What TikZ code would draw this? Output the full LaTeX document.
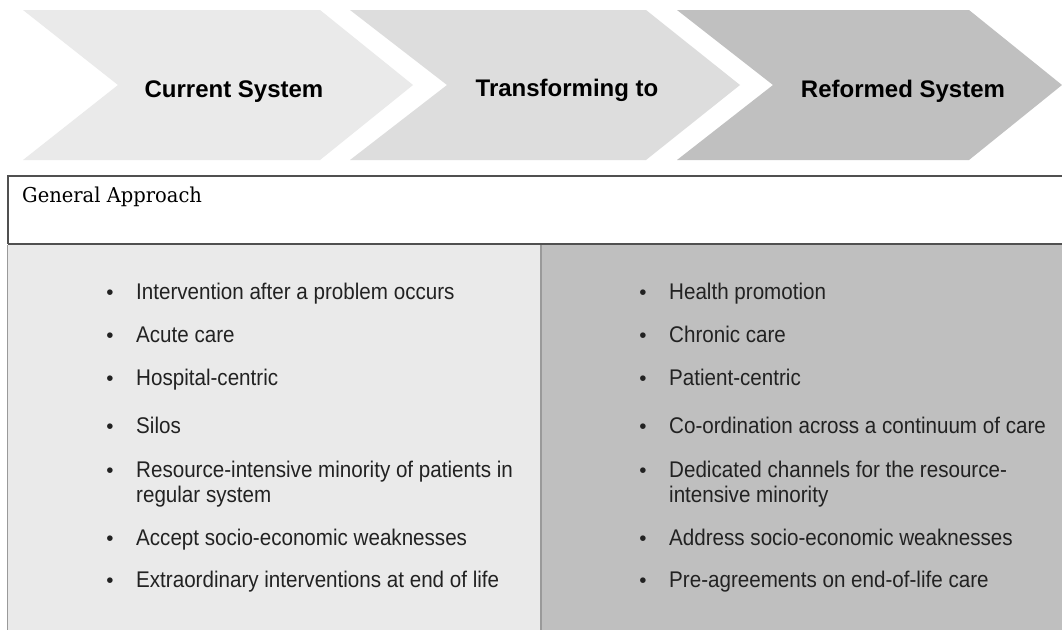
\documentclass[tikz,border=0pt]{standalone}
\usepackage{fontspec}
\setmainfont{Liberation Sans}
\newfontfamily\headserif{DejaVu Serif}
\definecolor{chevA}{HTML}{EAEAEA}
\definecolor{chevB}{HTML}{DDDDDD}
\definecolor{chevC}{HTML}{C0C0C0}
\definecolor{bodyL}{HTML}{EAEAEA}
\definecolor{bodyR}{HTML}{BFBFBF}
\definecolor{frameC}{HTML}{505050}
\definecolor{lightframe}{HTML}{9A9A9A}
\definecolor{txt}{HTML}{222222}
\newcommand{\tallt}[1]{\scalebox{1}[1.1]{#1}}
\newcommand{\twoline}[2]{\scalebox{1}[1.1]{\begin{tabular}[b]{@{}l@{}}#1\\#2\end{tabular}}}
\begin{document}
\begin{tikzpicture}[x=1pt,y=-1pt,
  chevlabel/.style={font=\fontsize{24}{28}\selectfont\bfseries, text=black, inner sep=0pt, anchor=base},
  bullettext/.style={font=\fontsize{20.6}{22.7}\selectfont, text=txt, inner sep=0pt, anchor=base west},
  bulletdot/.style={font=\fontsize{20.6}{25}\selectfont, text=txt, inner sep=0pt, anchor=base},
  frame/.style={draw=frameC, line width=1.6pt},
  lframe/.style={draw=lightframe, line width=1.4pt}]
\useasboundingbox (0,0) rectangle (1062,630);
\fill[white] (0,0) rectangle (1062,630);
% chevrons
\fill[chevA] (23,10) -- (320,10) -- (413,85) -- (320,160) -- (23,160) -- (118,85) -- cycle;
\fill[chevB] (350,10) -- (646,10) -- (740,85) -- (646,160) -- (350,160) -- (447,85) -- cycle;
\fill[chevC] (677,10) -- (969,10) -- (1062,85) -- (969,160) -- (677,160) -- (773,85) -- cycle;
\node[chevlabel] (c1) at (234,97) {Current System};
\node[chevlabel] (c2) at (567,96) {Transforming to};
\node[chevlabel] (c3) at (903,97) {Reformed System};
% table
\fill[bodyL] (8,244) rectangle (541,630);
\fill[bodyR] (541,244) rectangle (1062,630);
\draw[frame] (8,244) -- (8,176) -- (1062,176);
\draw[frame] (8,244) -- (1062,244);
\draw[lframe] (7.5,245) -- (7.5,630);
\draw[lframe] (541,245) -- (541,630);
\node[font=\headserif\fontsize{19.5}{23}\selectfont, text=black, inner sep=0pt, anchor=base west] (ga) at (22,202) {\scalebox{1}[1.05]{General Approach}};
% left column
\foreach \y/\t [count=\i] in {299/Intervention after a problem occurs, 342/Acute care, 385/Hospital-centric, 433/Silos, 545/Accept socio-economic weaknesses, 587/Extraordinary interventions at end of life}{
  \node[bulletdot] (lb\i) at (110,\y) {•};
  \node[bullettext] (lt\i) at (136,\y) {\tallt{\t}};
}
\node[bulletdot] (lb7) at (110,477) {•};
\node[bullettext] (lt7) at (136,502) {\twoline{Resource-intensive minority of patients in}{regular system}};
% right column
\foreach \y/\t [count=\i] in {299/Health promotion, 342/Chronic care, 385/Patient-centric, 433/Co-ordination across a continuum of care, 545/Address socio-economic weaknesses, 587/Pre-agreements on end-of-life care}{
  \node[bulletdot] (rb\i) at (643,\y) {•};
  \node[bullettext] (rt\i) at (669,\y) {\tallt{\t}};
}
\node[bulletdot] (rb7) at (643,477) {•};
\node[bullettext] (rt7) at (669,502) {\twoline{Dedicated channels for the resource-}{intensive minority}};
\end{tikzpicture}
\end{document}
